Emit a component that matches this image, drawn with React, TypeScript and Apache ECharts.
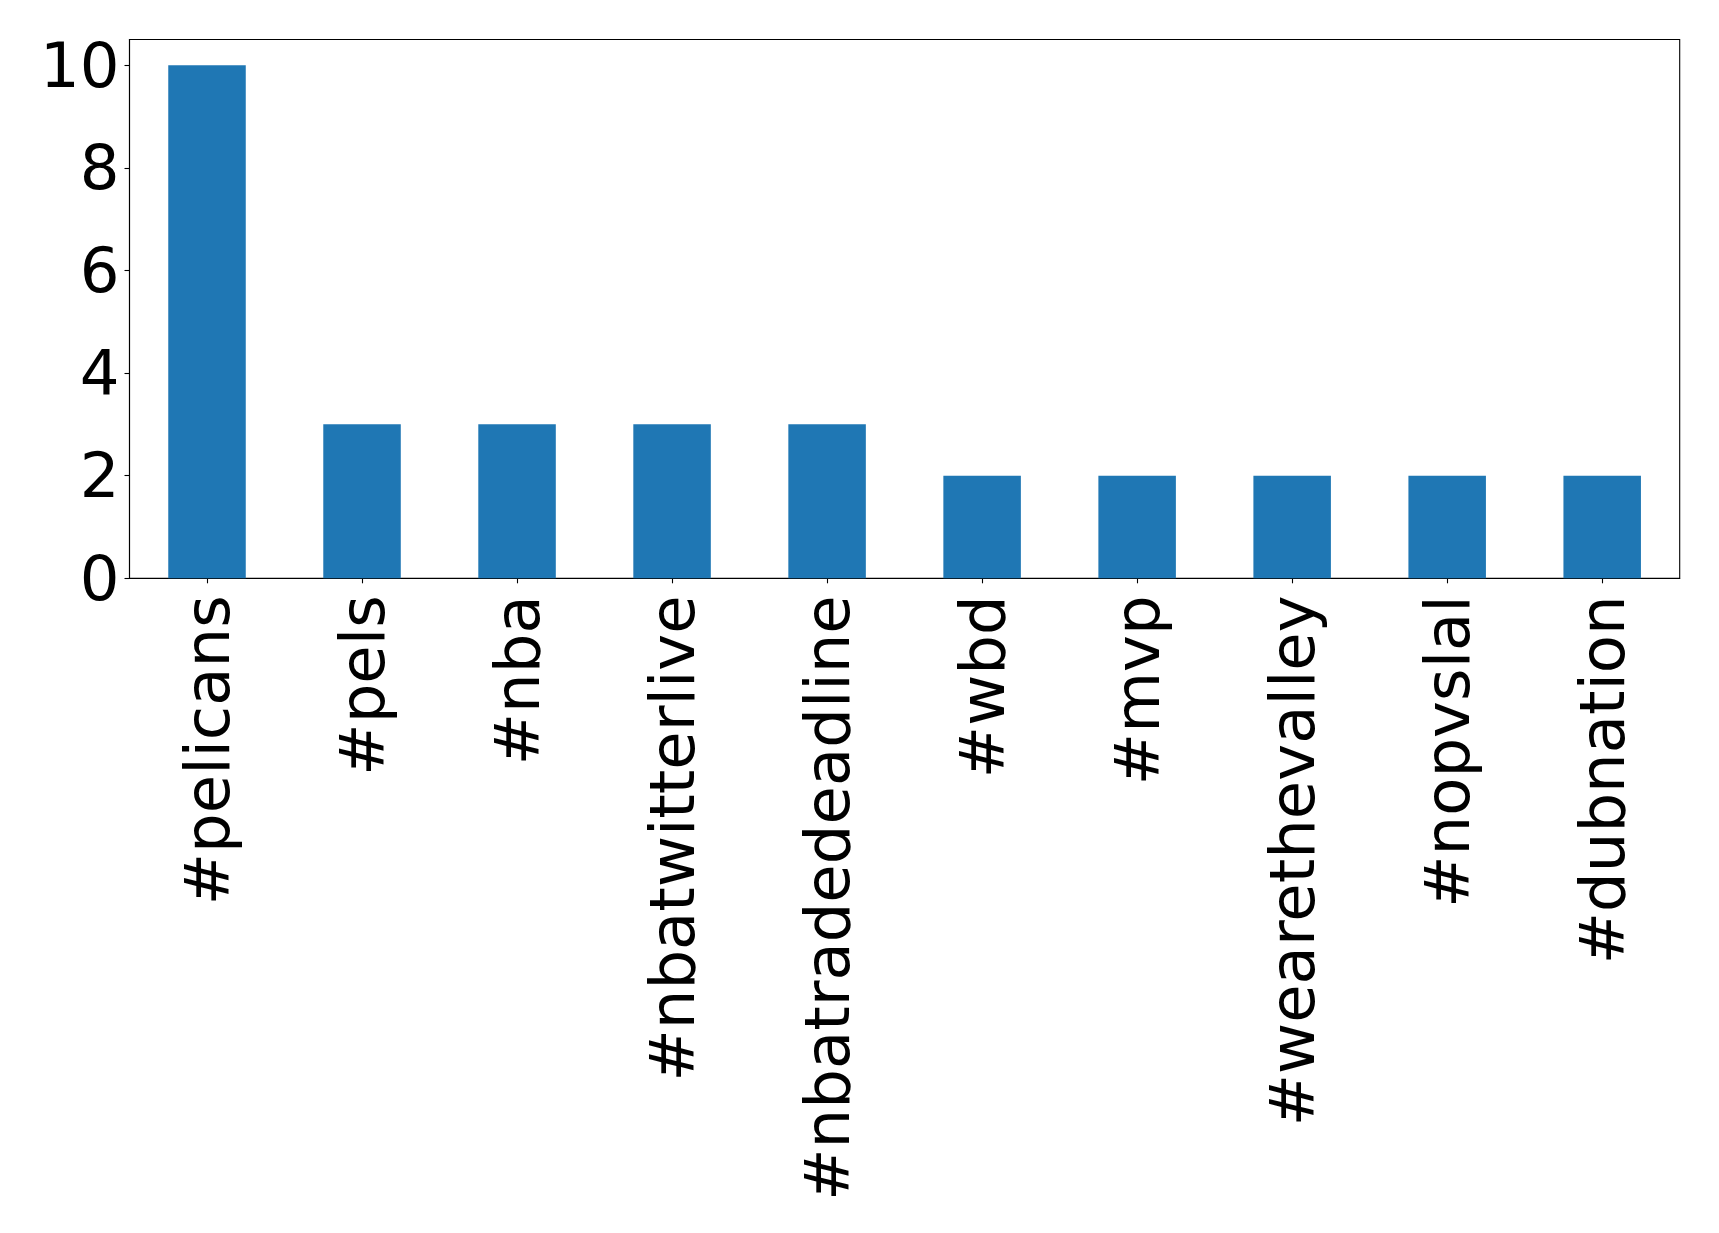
import React, { useEffect, useRef } from "react";
import * as echarts from "echarts";

const categories = [
  "#pelicans",
  "#pels",
  "#nba",
  "#nbatwitterlive",
  "#nbatradedeadline",
  "#wbd",
  "#mvp",
  "#wearethevalley",
  "#nopvslal",
  "#dubnation",
];
const counts = [10, 3, 3, 3, 3, 2, 2, 2, 2, 2];
const yTicks = [0, 2, 4, 6, 8, 10];

export default function App() {
  const ref = useRef<HTMLDivElement>(null);
  useEffect(() => {
    if (!ref.current) return;
    const chart = echarts.init(ref.current, null, { renderer: "svg" });
    const font = "DejaVu Sans";
    chart.setOption({
      animation: false,
      backgroundColor: "#ffffff",
      grid: {
        left: 129.5,
        top: 39.5,
        right: 39.3,
        bottom: 654.7,
        show: true,
        borderColor: "#000000",
        borderWidth: 1.1,
        backgroundColor: "transparent",
      },
      xAxis: {
        type: "category",
        data: categories,
        boundaryGap: true,
        axisLine: { show: true, lineStyle: { color: "#000000", width: 1.1 } },
        axisTick: {
          show: true,
          alignWithLabel: true,
          length: 5,
          lineStyle: { color: "#000000", width: 1.1 },
        },
        axisLabel: {
          rotate: 90,
          margin: 17,
          fontSize: 62.5,
          fontFamily: font,
          color: "#000000",
          interval: 0,
        },
        splitLine: { show: false },
      },
      yAxis: {
        type: "value",
        min: 0,
        max: 10.5,
        interval: 2,
        axisLine: { show: true, lineStyle: { color: "#000000", width: 1.1 } },
        axisTick: {
          show: true,
          length: 5,
          customValues: yTicks,
          lineStyle: { color: "#000000", width: 1.1 },
        },
        axisLabel: {
          margin: 10,
          fontSize: 62.5,
          fontFamily: font,
          color: "#000000",
          customValues: yTicks,
          padding: [5, 0, 0, 0],
        },
        splitLine: { show: false },
      },
      series: [
        {
          type: "bar",
          data: counts,
          barWidth: "50%",
          itemStyle: { color: "#1f77b4" },
        },
      ],
    });
    return () => chart.dispose();
  }, []);
  return (
    <div
      ref={ref}
      style={{ position: "fixed", left: 0, top: 0, width: 1719, height: 1233, background: "#fff" }}
    />
  );
}
